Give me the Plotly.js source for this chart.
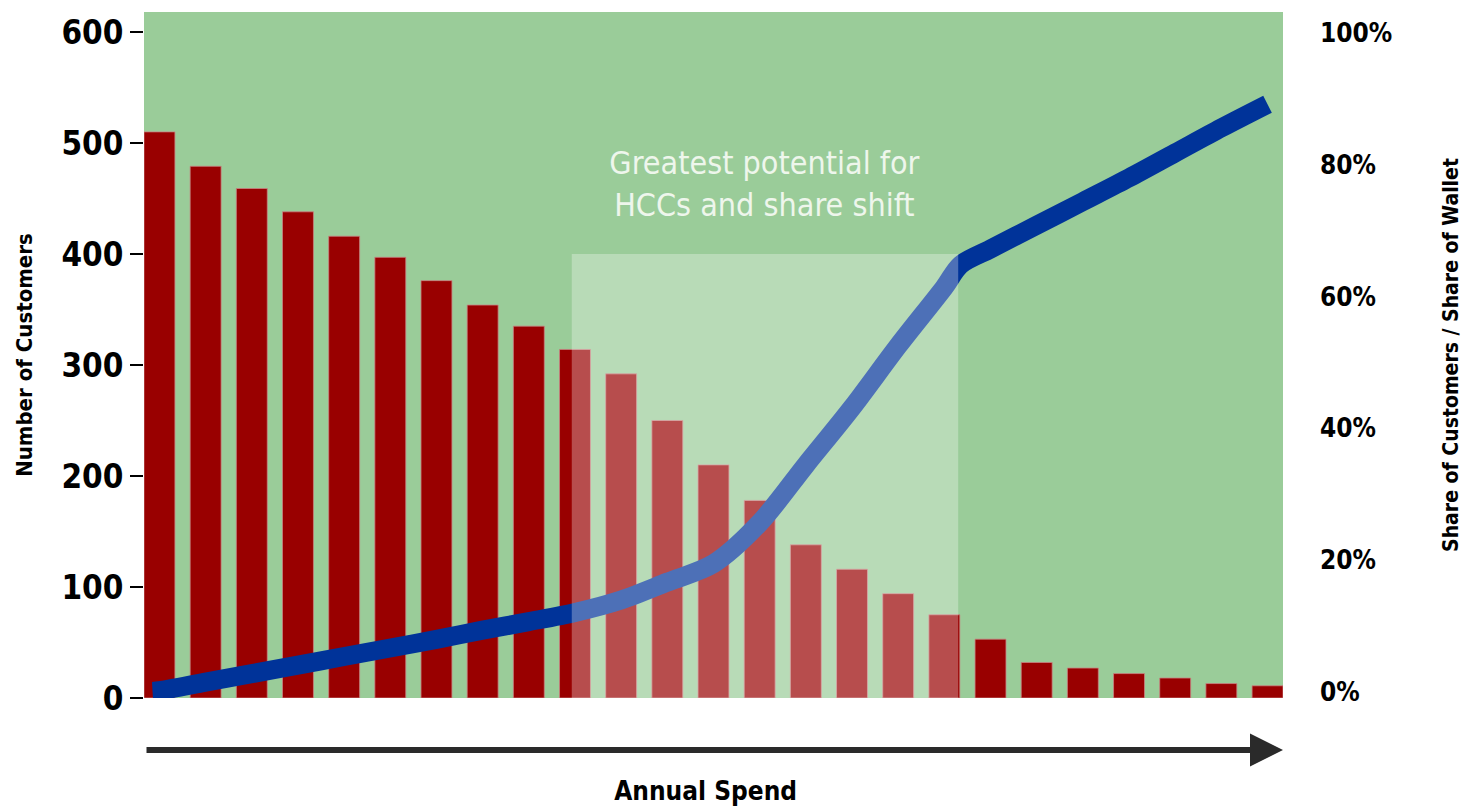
<!DOCTYPE html>
<html>
<head>
<meta charset="utf-8">
<script src="https://cdn.plot.ly/plotly-3.0.1.min.js"></script>
<style>
  html, body { margin: 0; padding: 0; background: #ffffff; }
  #chart { width: 1473px; height: 812px; }
  #chart svg text { font-stretch: condensed !important; }
</style>
</head>
<body>
<div id="chart"></div>
<script>
// Spend bands (x positions, ordered by annual spend)
const spendBands = [1, 2, 3, 4, 5, 6, 7, 8, 9, 10, 11, 12, 13, 14, 15, 16, 17, 18, 19, 20, 21, 22, 23, 24, 25];
// Number of customers per spend band
const customers = [510, 479, 459, 438, 416, 397, 376, 354, 335, 314, 292, 250, 210, 178, 138, 116, 94, 75, 53, 32, 27, 22, 18, 13, 11];
// Cumulative share curve (x positions and % values)
const shareX = [0.85, 1, 2, 3, 4, 5, 6, 7, 8, 9, 10, 11, 12, 13, 14, 15, 16, 17, 18, 18.35, 19, 20, 21, 22, 23, 24, 25];
const shareY = [0, 0.1, 1.4, 2.7, 4.0, 5.3, 6.6, 7.9, 9.3, 10.6, 12.0, 13.9, 16.6, 19.4, 25.6, 34.4, 43.1, 52.5, 61.4, 64.8, 67.2, 70.8, 74.4, 78.0, 81.8, 85.6, 89.2];
// Axis tick labels
const leftTicks = [0, 100, 200, 300, 400, 500, 600];
const rightTicks = [0, 20, 40, 60, 80, 100];
const rightTickText = ['0%', '20%', '40%', '60%', '80%', '100%'];
// Highlighted zone (spend band range and height)
const zoneBands = [9.93, 18.3];
const zoneTop = 400;

const FONT = '"DejaVu Sans", sans-serif';

const traces = [
  {
    type: 'bar',
    x: spendBands,
    y: customers,
    width: 0.67,
    marker: { color: '#990000', line: { color: 'rgba(200,130,130,0.8)', width: 1 } },
    hoverinfo: 'skip',
    showlegend: false
  },
  {
    type: 'scatter',
    mode: 'lines',
    x: shareX,
    y: shareY,
    yaxis: 'y2',
    line: { color: '#003399', width: 19, shape: 'spline', smoothing: 0.9 },
    hoverinfo: 'skip',
    showlegend: false
  }
];

const layout = {
  width: 1473,
  height: 812,
  margin: { l: 144, r: 190, t: 12, b: 114 },
  paper_bgcolor: '#ffffff',
  plot_bgcolor: 'rgb(154,204,153)',
  xaxis: {
    range: [0.665, 25.335],
    showgrid: false, zeroline: false, showline: false,
    showticklabels: false, ticks: '',
    fixedrange: true
  },
  yaxis: {
    range: [0, 618],
    tickvals: leftTicks,
    ticktext: leftTicks.map(String),
    ticks: 'outside', ticklen: 13, tickwidth: 2, tickcolor: '#000',
    showgrid: false, zeroline: false, showline: false,
    tickfont: { family: FONT, size: 33, color: '#000', weight: 'bold' },
    title: { text: 'Number of Customers', font: { family: FONT, size: 22, color: '#000', weight: 'bold' }, standoff: 15 },
    fixedrange: true
  },
  yaxis2: {
    overlaying: 'y',
    side: 'right',
    range: [-1, 103.2],
    tickvals: rightTicks,
    ticktext: rightTickText,
    ticks: '', ticklabelstandoff: 36,
    showgrid: false, zeroline: false, showline: false,
    tickfont: { family: FONT, size: 26, color: '#000', weight: 'bold' },
    title: { text: 'Share of Customers / Share of Wallet', font: { family: FONT, size: 21, color: '#000', weight: 'bold' }, standoff: 43 },
    fixedrange: true
  },
  shapes: [
    {
      type: 'rect', layer: 'above',
      xref: 'x', yref: 'y',
      x0: zoneBands[0], x1: zoneBands[1], y0: 0, y1: zoneTop,
      fillcolor: 'rgba(255,255,255,0.3)', line: { width: 0 }
    }
  ],
  annotations: [
    {
      xref: 'paper', yref: 'paper', x: 0.545, y: 0.749,
      text: 'Greatest potential for<br>HCCs and share shift',
      showarrow: false,
      font: { family: FONT, size: 32, color: '#eef6ec' },
      align: 'center', xanchor: 'center', yanchor: 'middle'
    },
    {
      xref: 'paper', yref: 'paper', x: 1, y: -0.0758,
      axref: 'pixel', ayref: 'pixel', ax: -1138, ay: 0,
      text: '', showarrow: true,
      arrowhead: 2, arrowsize: 1.1, arrowwidth: 6, arrowcolor: '#2a2a2a',
      standoff: 0, startstandoff: 0
    },
    {
      xref: 'paper', yref: 'paper', x: 0.4926, y: -0.135,
      text: 'Annual Spend', showarrow: false,
      font: { family: FONT, size: 26, color: '#000', weight: 'bold' },
      xanchor: 'center', yanchor: 'middle'
    }
  ]
};

Plotly.newPlot('chart', traces, layout, { displayModeBar: false, staticPlot: true });
</script>
</body>
</html>
